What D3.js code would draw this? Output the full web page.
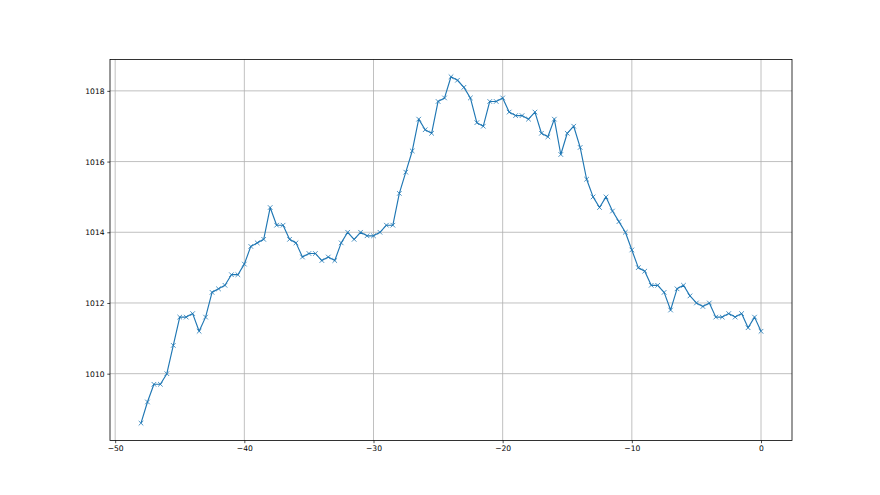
<!DOCTYPE html>
<html>
<head>
<meta charset="utf-8">
<script src="https://cdn.jsdelivr.net/npm/d3@7"></script>
<style>
	body { margin: 0; background: #fff; }
	svg { display: block; }
	.tick text { font-family: "DejaVu Sans", sans-serif; font-size: 7.6px; fill: #000; }
</style>
</head>
<body>
<main></main>
<script>
// hours relative to now, one reading every half hour
const hours = d3.range(97).map((i) => -48 + i * 0.5);

const pressure = [
	1008.6, 1009.2, 1009.7, 1009.7, 1010.0, 1010.8, 1011.6, 1011.6, 1011.7, 1011.2,
	1011.6, 1012.3, 1012.4, 1012.5, 1012.8, 1012.8, 1013.1, 1013.6, 1013.7, 1013.8,
	1014.7, 1014.2, 1014.2, 1013.8, 1013.7, 1013.3, 1013.4, 1013.4, 1013.2, 1013.3,
	1013.2, 1013.7, 1014.0, 1013.8, 1014.0, 1013.9, 1013.9, 1014.0, 1014.2, 1014.2,
	1015.1, 1015.7, 1016.3, 1017.2, 1016.9, 1016.8, 1017.7, 1017.8, 1018.4, 1018.3,
	1018.1, 1017.8, 1017.1, 1017.0, 1017.7, 1017.7, 1017.8, 1017.4, 1017.3, 1017.3,
	1017.2, 1017.4, 1016.8, 1016.7, 1017.2, 1016.2, 1016.8, 1017.0, 1016.4, 1015.5,
	1015.0, 1014.7, 1015.0, 1014.6, 1014.3, 1014.0, 1013.5, 1013.0, 1012.9, 1012.5,
	1012.5, 1012.3, 1011.8, 1012.4, 1012.5, 1012.2, 1012.0, 1011.9, 1012.0, 1011.6,
	1011.6, 1011.7, 1011.6, 1011.7, 1011.3, 1011.6, 1011.2
];

const xTicks = [-50, -40, -30, -20, -10, 0];
const yTicks = [1010, 1012, 1014, 1016, 1018];

const data = hours.map((h, i) => ({ h: h, p: pressure[i] }));

const w = 880,
	h = 495,
	padLeft = 110,
	padRight = 792,
	padTop = 59.4,
	padBottom = 440.5;

// matplotlib style 5% margins around the data
const xMin = d3.min(hours), xMax = d3.max(hours);
const yMin = d3.min(pressure), yMax = d3.max(pressure);
const xPad = (xMax - xMin) * 0.05, yPad = (yMax - yMin) * 0.05;

const xScale = d3.scaleLinear()
	.domain([xMin - xPad, xMax + xPad])
	.range([padLeft, padRight]);

const yScale = d3.scaleLinear()
	.domain([yMin - yPad, yMax + yPad])
	.range([padBottom, padTop]);

const svg = d3.select("main")
	.append("svg")
	.attr("width", w)
	.attr("height", h);

// grid
svg.append("g")
	.selectAll("line")
	.data(xTicks)
	.enter()
	.append("line")
	.attr("x1", (d) => xScale(d))
	.attr("x2", (d) => xScale(d))
	.attr("y1", padTop)
	.attr("y2", padBottom)
	.attr("stroke", "#b0b0b0")
	.attr("stroke-width", 0.8);

svg.append("g")
	.selectAll("line")
	.data(yTicks)
	.enter()
	.append("line")
	.attr("x1", padLeft)
	.attr("x2", padRight)
	.attr("y1", (d) => yScale(d))
	.attr("y2", (d) => yScale(d))
	.attr("stroke", "#b0b0b0")
	.attr("stroke-width", 0.8);

const line = d3.line()
	.x((d) => xScale(d.h))
	.y((d) => yScale(d.p));

svg.append("path")
	.datum(data)
	.attr("d", line)
	.attr("fill", "none")
	.attr("stroke", "#1f77b4")
	.attr("stroke-width", 1.15)
	.attr("stroke-linejoin", "round");

const m = 2.3;
svg.append("g")
	.selectAll("path")
	.data(data)
	.enter()
	.append("path")
	.attr("d", (d) => {
		const x = xScale(d.h), y = yScale(d.p);
		return "M" + (x - m) + "," + (y - m) + "L" + (x + m) + "," + (y + m) +
			"M" + (x - m) + "," + (y + m) + "L" + (x + m) + "," + (y - m);
	})
	.attr("stroke", "#1f77b4")
	.attr("stroke-width", 0.8)
	.attr("fill", "none");

// axes
const xAxis = d3.axisBottom(xScale).tickValues(xTicks).tickSize(2.7).tickPadding(2.7).tickFormat(d3.format("d"));
svg.append("g")
	.attr("transform", "translate(0," + padBottom + ")")
	.call(xAxis)
	.call((g) => g.select(".domain").remove())
	.call((g) => g.selectAll(".tick line").attr("stroke", "#000").attr("stroke-width", 0.7));

const yAxis = d3.axisLeft(yScale).tickValues(yTicks).tickSize(2.7).tickPadding(2.7).tickFormat(d3.format("d"));
svg.append("g")
	.attr("transform", "translate(" + padLeft + ",0)")
	.call(yAxis)
	.call((g) => g.select(".domain").remove())
	.call((g) => g.selectAll(".tick line").attr("stroke", "#000").attr("stroke-width", 0.7));

// frame
svg.append("rect")
	.attr("x", padLeft)
	.attr("y", padTop)
	.attr("width", padRight - padLeft)
	.attr("height", padBottom - padTop)
	.attr("fill", "none")
	.attr("stroke", "#000")
	.attr("stroke-width", 0.8);
</script>
</body>
</html>
